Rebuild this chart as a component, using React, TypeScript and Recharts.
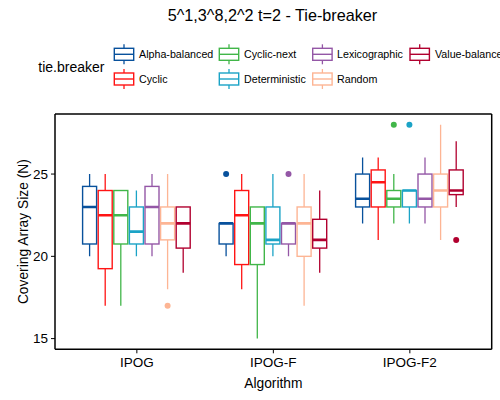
import React from "react";
import { ComposedChart, Bar, XAxis, YAxis } from "recharts";

const algorithms = ["IPOG", "IPOG-F", "IPOG-F2"];
const tieBreakers = [
  "Alpha-balanced",
  "Cyclic",
  "Cyclic-next",
  "Deterministic",
  "Lexicographic",
  "Random",
  "Value-balanced",
];
const tieColors = ["#08519c", "#ff1414", "#41b649", "#1ba3c6", "#9457a6", "#fdb594", "#b1002f"];

// [min, q1, median, q3, max] for IPOG, IPOG-F, IPOG-F2
const alphaBalanced = [
  [20, 20.75, 23, 24.25, 25],
  [20, 20.75, 22, 22, 22],
  [22, 23, 23.5, 25, 26],
];
const cyclic = [
  [17, 19.25, 22.5, 24, 25],
  [18, 19.5, 22.5, 24, 25],
  [21, 23, 24.5, 25.25, 26],
];
const cyclicNext = [
  [17, 20.75, 22.5, 24, 24],
  [15, 19.5, 22, 23, 23],
  [22, 23, 23.5, 24, 25],
];
const deterministic = [
  [20, 20.75, 21.5, 23, 24],
  [20, 20.75, 21, 23, 25],
  [22, 23, 24, 24, 24],
];
const lexicographic = [
  [20, 20.75, 23, 24.25, 25],
  [20, 20.75, 22, 22, 22],
  [22, 23, 23.5, 25, 26],
];
const random = [
  [18, 21, 22, 23, 25],
  [17, 20, 22, 23, 25],
  [21, 23, 24, 25, 28],
];
const valueBalanced = [
  [19, 20.5, 22, 23, 23],
  [19, 20.5, 21, 22.25, 24],
  [23, 23.75, 24, 25.25, 27],
];

// outlying points per algorithm
const alphaBalancedOut = [[], [25], []];
const cyclicOut = [[], [], []];
const cyclicNextOut = [[], [], [28]];
const deterministicOut = [[], [], [28]];
const lexicographicOut = [[], [25], []];
const randomOut = [[17], [], []];
const valueBalancedOut = [[], [], [21]];

const yTicks = [15, 20, 25];
const yDomain = [14.35, 28.65];

const summaries = [alphaBalanced, cyclic, cyclicNext, deterministic, lexicographic, random, valueBalanced];
const outliers = [
  alphaBalancedOut,
  cyclicOut,
  cyclicNextOut,
  deterministicOut,
  lexicographicOut,
  randomOut,
  valueBalancedOut,
];

const rows = algorithms.map((algorithm, i) => {
  const row: any = { algorithm };
  tieBreakers.forEach((t, k) => {
    row[t] = { stats: summaries[k][i], out: outliers[k][i] };
  });
  return row;
});

const FONT = '"Liberation Sans", Arial, sans-serif';

const rangeOf = (name: string) => (row: any) => {
  const s = row[name];
  const all = [s.stats[0], s.stats[4], ...s.out];
  return [Math.min(...all), Math.max(...all)];
};

function makeBoxShape(name: string, color: string) {
  return (props: any) => {
    const { x, y, width, height, payload } = props;
    const { stats, out } = payload[name];
    const [lo, hi] = rangeOf(name)(payload);
    const top = Math.min(y, y + height);
    const span = Math.abs(height);
    const py = (v: number) => top + ((hi - v) / (hi - lo)) * span;
    const cx = x + width / 2;
    const [mn, q1, med, q3, mx] = stats;
    return (
      <g>
        <line x1={cx} x2={cx} y1={py(mx)} y2={py(q3)} stroke={color} strokeWidth={1.3} />
        <line x1={cx} x2={cx} y1={py(q1)} y2={py(mn)} stroke={color} strokeWidth={1.3} />
        <rect
          x={x}
          y={py(q3)}
          width={width}
          height={py(q1) - py(q3)}
          fill="#ffffff"
          stroke={color}
          strokeWidth={1.4}
        />
        <line x1={x} x2={x + width} y1={py(med)} y2={py(med)} stroke={color} strokeWidth={2.6} />
        {out.map((v: number, j: number) => (
          <circle key={j} cx={cx} cy={py(v)} r={3} fill={color} />
        ))}
      </g>
    );
  };
}

const keyX = [114.3, 219.3, 312.7, 410];
const textX = [139, 244, 337, 435];
const rowY = [54.3, 79];

const Overlay = () => (
  <svg
    width={500}
    height={400}
    style={{ position: "absolute", left: 0, top: 0, pointerEvents: "none" }}
    fontFamily={FONT}
  >
    <text x={272.5} y={20.7} textAnchor="middle" fontSize={16.2} fill="#000">
      5^1,3^8,2^2 t=2 - Tie-breaker
    </text>
    <text x={38.3} y={71.7} fontSize={14} fill="#000">
      tie.breaker
    </text>
    {tieBreakers.map((t, k) => {
      const col = Math.floor(k / 2);
      const r = k % 2;
      const kx = keyX[col];
      const cy = rowY[r];
      const c = tieColors[k];
      return (
        <g key={t}>
          <line x1={kx + 9.7} x2={kx + 9.7} y1={cy - 10} y2={cy + 10} stroke={c} strokeWidth={1.3} />
          <rect x={kx} y={cy - 6} width={19.4} height={12} fill="#fff" stroke={c} strokeWidth={1.4} />
          <line x1={kx} x2={kx + 19.4} y1={cy} y2={cy} stroke={c} strokeWidth={1.4} />
          <text x={textX[col]} y={cy + 3.9} fontSize={10.7} fill="#000">
            {t}
          </text>
        </g>
      );
    })}
  </svg>
);

export default function App() {
  const tick = { fontSize: 13.5, fill: "#000", fontFamily: FONT };
  return (
    <div style={{ position: "absolute", left: 0, top: 0, width: 500, height: 400, background: "#fff" }}>
      <ComposedChart
        width={500}
        height={400}
        data={rows}
        margin={{ top: 113, right: 7.3, bottom: 0, left: 0 }}
        barGap={1.6}
      >
        <XAxis
          dataKey="algorithm"
          height={50.7}
          padding={{ left: 13.6, right: 13.6 }}
          tick={tick}
          tickSize={4}
          tickMargin={4}
          tickLine={{ stroke: "#000" }}
          axisLine={{ stroke: "#000", strokeWidth: 1.5 }}
          label={{
            value: "Algorithm",
            position: "insideBottom",
            offset: 12.3,
            style: { fontSize: 13.8, fill: "#000", fontFamily: FONT },
          }}
        />
        <XAxis
          xAxisId="top"
          dataKey="algorithm"
          orientation="top"
          height={1}
          tick={false}
          tickLine={false}
          axisLine={{ stroke: "#000", strokeWidth: 1.5 }}
        />
        <YAxis
          width={55}
          type="number"
          domain={yDomain}
          ticks={yTicks}
          allowDataOverflow
          tick={tick}
          tickSize={4}
          tickMargin={3}
          tickLine={{ stroke: "#000" }}
          axisLine={{ stroke: "#000", strokeWidth: 1.5 }}
          label={{
            value: "Covering Array Size (N)",
            angle: -90,
            position: "insideLeft",
            offset: 23.5,
            style: { fontSize: 13.8, fill: "#000", fontFamily: FONT, textAnchor: "middle" },
          }}
        />
        <YAxis
          yAxisId="right"
          orientation="right"
          width={1}
          type="number"
          domain={yDomain}
          allowDataOverflow
          tick={false}
          tickLine={false}
          axisLine={{ stroke: "#000", strokeWidth: 1.5 }}
        />
        {tieBreakers.map((t, k) => (
          <Bar
            key={t}
            name={t}
            dataKey={rangeOf(t)}
            barSize={14}
            fill={tieColors[k]}
            shape={makeBoxShape(t, tieColors[k])}
            isAnimationActive={false}
          />
        ))}
      </ComposedChart>
      <Overlay />
    </div>
  );
}
